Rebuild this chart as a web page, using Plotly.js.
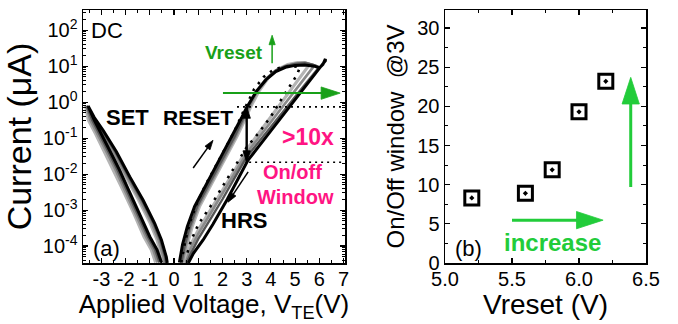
<!DOCTYPE html>
<html>
<head>
<meta charset="utf-8">
<script src="https://cdn.plot.ly/plotly-3.0.1.min.js"></script>
<style>
html,body{margin:0;padding:0;background:#fff;}
#chart{width:678px;height:324px;}
</style>
</head>
<body>
<div id="chart"></div>
<script>
// ---------- Panel (a): I-V sweeps (voltage in V, current in uA) ----------
// Vreset = 6.2 V cycle (black)
var c62_upV = [0.22, 0.35, 0.55, 0.85, 1.2, 1.6, 2.0, 2.4, 2.8, 3.0, 3.4, 3.8, 4.2, 4.6, 5.0, 5.4, 5.8, 6.0, 6.15, 6.25];
var c62_upI = [3.5e-5, 1.1e-4, 3.5e-4, 1.26e-3, 3.5e-3, 0.0112, 0.0355, 0.112, 0.38, 0.71, 2.0, 4.2, 7.1, 9.3, 10.5, 10.7, 10.0, 8.9, 11.2, 15.8];
var c62_dnV = [6.25, 6.0, 5.5, 5.0, 4.5, 4.0, 3.5, 3.05, 2.7, 2.2, 1.6, 1.2, 0.8, 0.59];
var c62_dnI = [14.1, 8.7, 3.16, 1.17, 0.44, 0.158, 0.059, 0.024, 8.5e-3, 2.0e-3, 4.0e-4, 1.48e-4, 6.3e-5, 3.4e-5];
var c62_negV = [-0.28, -0.32, -0.52, -0.80, -1.28, -1.83, -2.38, -2.93, -3.3, -3.55, -3.3, -3.0, -2.5, -2.25, -1.9, -1.42, -1.0, -0.7, -0.52];
var negI    = [3.4e-5, 5.0e-5, 1.48e-4, 4.3e-4, 1.9e-3, 8.5e-3, 0.042, 0.166, 0.38, 0.78, 0.32, 0.132, 0.028, 0.0129, 4.0e-3, 8.1e-4, 1.82e-4, 7.9e-5, 3.5e-5];

// Vreset = 6.0 V cycle (dark grey)
var c60_upV = [0.3, 0.45, 0.65, 0.95, 1.3, 1.7, 2.1, 2.5, 2.85, 3.05, 3.4, 3.8, 4.2, 4.6, 5.0, 5.4, 5.7, 6.0];
var c60_upI = [3.5e-5, 1.12e-4, 3.5e-4, 1.26e-3, 3.5e-3, 0.0112, 0.0355, 0.112, 0.355, 0.71, 2.0, 4.5, 7.6, 10.0, 11.5, 12.0, 11.2, 9.5];
var c60_dnV = [6.0, 5.5, 5.0, 4.5, 4.0, 3.5, 3.0, 2.5, 2.0, 1.5, 1.0, 0.7, 0.52];
var c60_dnI = [9.5, 3.7, 1.41, 0.54, 0.21, 0.079, 0.030, 7.9e-3, 2.0e-3, 5.6e-4, 1.58e-4, 6.3e-5, 3.4e-5];
var c60_negV = [-0.33, -0.37, -0.57, -0.85, -1.33, -1.88, -2.43, -2.98, -3.35, -3.6, -3.38, -3.08, -2.58, -2.33, -1.98, -1.5, -1.08, -0.78, -0.6];

// Vreset = 5.8 V cycle (grey)
var c58_upV = [0.35, 0.5, 0.7, 1.0, 1.35, 1.75, 2.15, 2.55, 2.9, 3.1, 3.4, 3.8, 4.2, 4.6, 5.0, 5.4, 5.8];
var c58_upI = [3.5e-5, 1.12e-4, 3.5e-4, 1.26e-3, 3.5e-3, 0.0112, 0.0355, 0.112, 0.355, 0.71, 1.78, 4.2, 7.6, 10.0, 11.7, 12.6, 10.5];
var c58_dnV = [5.8, 5.5, 5.0, 4.5, 4.0, 3.5, 3.0, 2.5, 2.0, 1.5, 1.0, 0.7, 0.48];
var c58_dnI = [10.5, 5.75, 2.1, 0.78, 0.28, 0.105, 0.038, 0.0105, 2.8e-3, 7.9e-4, 2.2e-4, 8.9e-5, 3.4e-5];
var c58_negV = [-0.40, -0.44, -0.64, -0.92, -1.40, -1.95, -2.50, -3.05, -3.42, -3.62, -3.46, -3.16, -2.66, -2.41, -2.06, -1.58, -1.16, -0.86, -0.68];

// Vreset = 5.6 V cycle (light grey)
var c56_upV = [0.4, 0.55, 0.75, 1.05, 1.4, 1.8, 2.2, 2.6, 2.95, 3.15, 3.5, 3.9, 4.3, 4.7, 5.1, 5.4, 5.6];
var c56_upI = [3.5e-5, 1.12e-4, 3.5e-4, 1.26e-3, 3.5e-3, 0.0112, 0.0355, 0.112, 0.355, 0.71, 2.0, 4.8, 8.3, 11.0, 12.6, 12.6, 11.2];
var c56_dnV = [5.6, 5.0, 4.5, 4.0, 3.5, 3.0, 2.5, 2.0, 1.5, 1.0, 0.7, 0.45];
var c56_dnI = [11.2, 3.16, 1.12, 0.39, 0.135, 0.048, 0.0126, 3.5e-3, 1.0e-3, 2.8e-4, 1.12e-4, 3.4e-5];
var c56_negV = [-0.46, -0.5, -0.70, -0.98, -1.46, -2.01, -2.56, -3.11, -3.45, -3.65, -3.54, -3.24, -2.74, -2.49, -2.14, -1.66, -1.24, -0.94, -0.76];

// Vreset = 5.2 V cycle (black dotted)
var c52_upV = [0.3, 0.45, 0.65, 0.95, 1.3, 1.7, 2.1, 2.5, 2.8, 3.0, 3.3, 3.7, 4.1, 4.5, 4.9, 5.2];
var c52_upI = [3.5e-5, 1.26e-4, 4.5e-4, 1.58e-3, 5.0e-3, 0.0158, 0.05, 0.158, 0.45, 0.89, 2.24, 5.0, 7.9, 9.5, 10.0, 9.3];
var c52_dnV = [5.2, 5.07, 4.5, 4.0, 3.5, 3.0, 2.5, 2.0, 1.5, 1.0, 0.7, 0.5];
var c52_dnI = [9.3, 5.6, 1.41, 0.4, 0.141, 0.056, 0.0158, 4.5e-3, 1.26e-3, 4.0e-4, 1.41e-4, 5.0e-5];

// On/off window read levels at 3 V
var lrsLevel = 0.74, hrsLevel = 0.0214;
var lrsLineV = [2.6, 7.06], hrsLineV = [3.1, 7.06];

// Tick labels of panel (a)
var xTicksA = [-3, -2, -1, 0, 1, 2, 3, 4, 5, 6, 7];
var yTickValsA = [1e-4, 1e-3, 1e-2, 1e-1, 1, 10, 100];
var yTickTextA = ['10<sup>-4</sup>', '10<sup>-3</sup>', '10<sup>-2</sup>', '10<sup>-1</sup>', '10<sup>0</sup>', '10<sup>1</sup>', '10<sup>2</sup>'];

// ---------- Panel (b): On/Off window vs Vreset ----------
var vreset = [5.2, 5.6, 5.8, 6.0, 6.2];
var onoff = [8.3, 8.9, 11.9, 19.3, 23.2];

function cyc(upV, upI, dnV, dnI, negV, nI) {
  var x = upV.concat(dnV), y = upI.concat(dnI);
  if (negV) { x = x.concat([null], negV); y = y.concat([null], nI); }
  return {x: x, y: y};
}
function lineTrace(d, color, width, dash) {
  return {type: 'scatter', mode: 'lines', x: d.x, y: d.y, xaxis: 'x', yaxis: 'y',
    line: {color: color, width: width, dash: dash || 'solid'}, hoverinfo: 'skip', showlegend: false};
}
// arrow drawn as a line with an arrow-head marker oriented along the segment
function arrowTrace(xs, ys, xa, ya, color, width, headSizes) {
  return {type: 'scatter', mode: 'lines+markers', x: xs, y: ys, xaxis: xa, yaxis: ya, opacity: 1,
    line: {color: color, width: width},
    marker: {symbol: 'arrow', angleref: 'previous', size: headSizes, color: color, opacity: 1,
             line: {width: 0.8, color: color}},
    hoverinfo: 'skip', showlegend: false};
}

var FONT = 'Arial, "Liberation Sans", sans-serif';
var GREEN_A = '#18a018', GREEN_B = '#22cc3a', PINK = '#ff1483';

var traces = [
  lineTrace(cyc(c56_upV, c56_upI, c56_dnV, c56_dnI, c56_negV, negI), '#b4b4b4', 3.2),
  lineTrace(cyc(c58_upV, c58_upI, c58_dnV, c58_dnI, c58_negV, negI), '#8a8a8a', 2.6),
  lineTrace(cyc(c60_upV, c60_upI, c60_dnV, c60_dnI, c60_negV, negI), '#555555', 2.4),
  lineTrace(cyc(c52_upV, c52_upI, c52_dnV, c52_dnI), '#000000', 2.6, '2.5px,6px'),
  lineTrace(cyc(c62_upV, c62_upI, c62_dnV, c62_dnI, c62_negV, negI), '#000000', 3),
  {type: 'scatter', mode: 'lines', x: lrsLineV, y: [lrsLevel, lrsLevel], xaxis: 'x', yaxis: 'y',
   line: {color: '#000', width: 1.6, dash: '2px,4px'}, hoverinfo: 'skip', showlegend: false},
  {type: 'scatter', mode: 'lines', x: hrsLineV, y: [hrsLevel, hrsLevel], xaxis: 'x', yaxis: 'y',
   line: {color: '#000', width: 1.6, dash: '2px,4px'}, hoverinfo: 'skip', showlegend: false},
  // arrows of panel (a)
  arrowTrace([4.05, 4.05], [12.0, 72.4], 'x', 'y', GREEN_A, 1.5, [0, 10]),
  arrowTrace([2.02, 6.86], [1.78, 1.78], 'x', 'y', GREEN_A, 2, [0, 20]),
  arrowTrace([3.0, 3.0, 3.0], [lrsLevel, hrsLevel, lrsLevel], 'x', 'y', '#000', 2, [0, 12, 12]),
  arrowTrace([0.79, 1.61], [0.0148, 0.087], 'x', 'y', '#000', 1.5, [0, 10]),
  arrowTrace([3.06, 2.23], [0.0115, 0.00166], 'x', 'y', '#000', 1.5, [0, 10]),
  // panel (b) data
  {type: 'scatter', mode: 'markers', x: vreset, y: onoff, xaxis: 'x2', yaxis: 'y2',
   marker: {symbol: 'square-open-dot', size: 14, color: '#000', line: {color: '#000', width: 3}},
   hoverinfo: 'skip', showlegend: false},
  // arrows of panel (b)
  arrowTrace([5.5, 6.18], [5.47, 5.47], 'x2', 'y2', GREEN_B, 3, [0, 28]),
  arrowTrace([6.386, 6.386], [9.7, 23.7], 'x2', 'y2', GREEN_B, 3, [0, 28])
];

var annotations = [
  {xref: 'x', yref: 'y', x: -3.5, y: 2.0, text: 'DC', showarrow: false, xanchor: 'left', font: {family: FONT, size: 22, color: '#000'}},
  {xref: 'x', yref: 'y', x: -3.45, y: -4.06, text: '(a)', showarrow: false, xanchor: 'left', font: {family: FONT, size: 22, color: '#000'}},
  {xref: 'x', yref: 'y', x: -1.94, y: -0.44, text: '<b>SET</b>', showarrow: false, font: {family: FONT, size: 22, color: '#000'}},
  {xref: 'x', yref: 'y', x: 0.97, y: -0.44, text: '<b>RESET</b>', showarrow: false, font: {family: FONT, size: 21, color: '#000'}},
  {xref: 'x', yref: 'y', x: 2.89, y: -3.28, text: '<b>HRS</b>', showarrow: false, font: {family: FONT, size: 22, color: '#000'}},
  {xref: 'x', yref: 'y', x: 5.54, y: -0.97, text: '<b>&gt;10x</b>', showarrow: false, font: {family: FONT, size: 23, color: PINK}},
  {xref: 'x', yref: 'y', x: 4.88, y: -1.94, text: '<b>On/off</b>', showarrow: false, font: {family: FONT, size: 20, color: PINK}},
  {xref: 'x', yref: 'y', x: 5.0, y: -2.64, text: '<b>Window</b>', showarrow: false, font: {family: FONT, size: 20, color: PINK}},
  {xref: 'x', yref: 'y', x: 2.48, y: 1.39, text: '<b>Vreset</b>', showarrow: false, font: {family: FONT, size: 19, color: GREEN_A}},
  {xref: 'x2', yref: 'y2', x: 5.06, y: 1.9, text: '(b)', showarrow: false, xanchor: 'left', font: {family: FONT, size: 22, color: '#000'}},
  {xref: 'x2', yref: 'y2', x: 5.80, y: 2.56, text: '<b>increase</b>', showarrow: false, font: {family: FONT, size: 24, color: GREEN_B}}
];

var axisCommon = {
  showgrid: false, zeroline: false, showline: true, linecolor: '#000', linewidth: 1.5,
  mirror: 'allticks', ticks: 'inside', ticklen: 5, tickwidth: 1.2, tickcolor: '#000',
  tickfont: {family: FONT, size: 20, color: '#000'}
};
function ax(extra) { return Object.assign({}, axisCommon, extra); }

var W = 678, H = 324;
var layout = {
  width: W, height: H,
  margin: {l: 0, r: 0, t: 0, b: 0, pad: 0},
  paper_bgcolor: '#fff', plot_bgcolor: '#fff',
  showlegend: false,
  font: {family: FONT, color: '#000'},
  xaxis: ax({domain: [83 / W, 345 / W], range: [-3.76, 7.06], anchor: 'y',
    tickmode: 'array', tickvals: xTicksA, ticktext: xTicksA.map(String), ticklabelstandoff: -3,
    minor: {ticks: 'inside', ticklen: 3, tickwidth: 1, tickcolor: '#000', tickmode: 'linear', tick0: 0, dtick: 0.5},
    title: {text: 'Applied Voltage, V<sub>TE</sub>(V)', font: {family: FONT, size: 26, color: '#000'}, standoff: 6}}),
  yaxis: ax({domain: [(H - 263) / H, (H - 10) / H], type: 'log', range: [-4.47, 2.56], anchor: 'x',
    tickmode: 'array', tickvals: yTickValsA, ticktext: yTickTextA,
    minor: {ticks: 'inside', ticklen: 3, tickwidth: 1, tickcolor: '#000', tickmode: 'linear', dtick: 'D1'},
    title: {text: 'Current (\u03bcA)', font: {family: FONT, size: 34, color: '#000'}, standoff: 2}}),
  xaxis2: ax({domain: [445 / W, 646 / W], range: [5.0, 6.5], anchor: 'y2',
    tickmode: 'linear', tick0: 5, dtick: 0.5, tickformat: '.1f', ticklabelstandoff: -3,
    minor: {ticks: 'inside', ticklen: 3, tickwidth: 1, tickcolor: '#000', tickmode: 'linear', tick0: 5, dtick: 0.25},
    title: {text: 'Vreset (V)', font: {family: FONT, size: 28, color: '#000'}, standoff: 4}}),
  yaxis2: ax({domain: [(H - 263) / H, (H - 10) / H], range: [0, 32.3], anchor: 'x2',
    tickmode: 'linear', tick0: 0, dtick: 5,
    minor: {ticks: 'inside', ticklen: 3, tickwidth: 1, tickcolor: '#000', tickmode: 'linear', tick0: 0, dtick: 2.5},
    title: {text: 'On/Off window\u00a0 @3V', font: {family: FONT, size: 24, color: '#000'}, standoff: 6}}),
  annotations: annotations
};

Plotly.newPlot('chart', traces, layout, {staticPlot: true, displayModeBar: false});
</script>
</body>
</html>
